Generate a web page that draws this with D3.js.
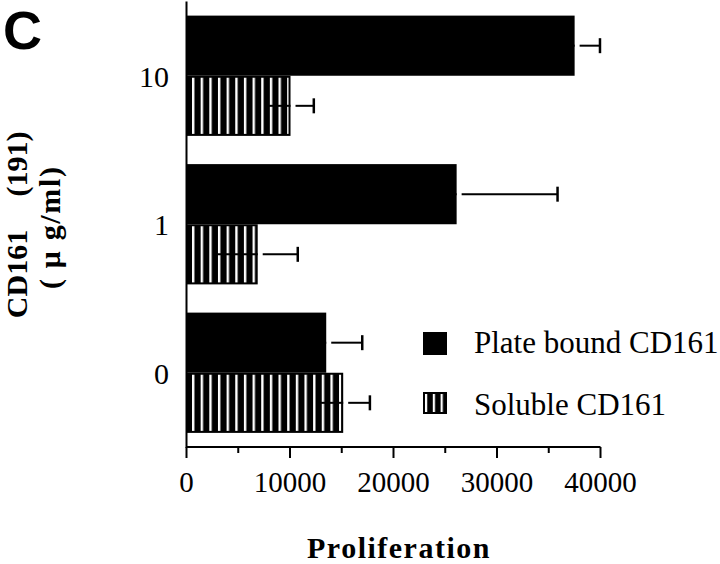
<!DOCTYPE html>
<html><head><meta charset="utf-8">
<script src="https://cdn.jsdelivr.net/npm/d3@7/dist/d3.min.js"></script>
<style>
html,body{margin:0;padding:0;background:#fff;}
svg{display:block;}
</style></head>
<body>
<svg id="chart" width="720" height="564"></svg>
<script>
const categories = ["10", "1", "0"];
const seriesNames = ["Plate bound CD161", "Soluble CD161"];
const plateBound = [37500, 26100, 13500];
const plateBoundErr = [2450, 9750, 3480];
const soluble = [10050, 6880, 15140];
const solubleErr = [2250, 3870, 2580];
const xTicks = [0, 10000, 20000, 30000, 40000];
const xMinorTicks = [5000, 15000, 25000, 35000];

const serif = "'Liberation Serif','Times New Roman',Times,serif";
const svg = d3.select("#chart");

const x = d3.scaleLinear().domain([0, 40000]).range([186.5, 600.5]);
const y = d3.scaleBand().domain(categories).range([1.5, 447]).paddingInner(0.19).paddingOuter(0.095);
const sub = d3.scaleBand().domain([0, 1]).range([0, y.bandwidth()]);

const defs = svg.append("defs");
const pat = defs.append("pattern").attr("id", "stripes").attr("patternUnits", "userSpaceOnUse")
  .attr("x", 192).attr("y", 0).attr("width", 8.65).attr("height", 10);
pat.append("rect").attr("width", 8.65).attr("height", 10).attr("fill", "#000");
pat.append("rect").attr("x", 0).attr("width", 2.4).attr("height", 10).attr("fill", "#fff");

const pat2 = defs.append("pattern").attr("id", "stripesLegend").attr("patternUnits", "userSpaceOnUse")
  .attr("x", 425).attr("y", 0).attr("width", 7.8).attr("height", 10);
pat2.append("rect").attr("width", 7.8).attr("height", 10).attr("fill", "#000");
pat2.append("rect").attr("x", 0).attr("width", 2.2).attr("height", 10).attr("fill", "#fff");

const rows = categories.map((c, i) => ({
  c, plate: plateBound[i], plateErr: plateBoundErr[i], sol: soluble[i], solErr: solubleErr[i]
}));

const g = svg.append("g");
g.selectAll("rect.plate").data(rows).join("rect").attr("class", "plate")
  .attr("x", x(0)).attr("y", d => y(d.c) + sub(0))
  .attr("width", d => x(d.plate) - x(0)).attr("height", sub.bandwidth())
  .attr("fill", "#000");
g.selectAll("rect.sol").data(rows).join("rect").attr("class", "sol")
  .attr("x", x(0)).attr("y", d => y(d.c) + sub(1))
  .attr("width", d => x(d.sol) - x(0)).attr("height", sub.bandwidth())
  .attr("fill", "#000");
g.selectAll("rect.solin").data(rows).join("rect").attr("class", "solin")
  .attr("x", x(0) + 3).attr("y", d => y(d.c) + sub(1) + 2)
  .attr("width", d => x(d.sol) - x(0) - 5).attr("height", sub.bandwidth() - 4)
  .attr("fill", "url(#stripes)");

const errs = [];
rows.forEach(d => {
  errs.push({ c: d.c, k: 0, v: d.plate, e: d.plateErr });
  errs.push({ c: d.c, k: 1, v: d.sol, e: d.solErr });
});
const cy = d => y(d.c) + sub(d.k) + sub.bandwidth() / 2;
g.selectAll("line.eneg").data(errs).join("line").attr("class", "eneg")
  .attr("x1", d => x(d.v - d.e)).attr("x2", d => x(d.v))
  .attr("y1", cy).attr("y2", cy).attr("stroke", "#000").attr("stroke-width", 2);
g.selectAll("line.epos").data(errs).join("line").attr("class", "epos")
  .attr("x1", d => x(d.v) + 5).attr("x2", d => x(d.v + d.e))
  .attr("y1", cy).attr("y2", cy).attr("stroke", "#000").attr("stroke-width", 2);
g.selectAll("line.ecap").data(errs).join("line").attr("class", "ecap")
  .attr("x1", d => x(d.v + d.e)).attr("x2", d => x(d.v + d.e))
  .attr("y1", d => cy(d) - 7.5).attr("y2", d => cy(d) + 7.5)
  .attr("stroke", "#000").attr("stroke-width", 2.5);

const axisY = 447;
svg.append("line").attr("x1", x(0)).attr("x2", x(0)).attr("y1", 1.5).attr("y2", axisY + 1)
  .attr("stroke", "#000").attr("stroke-width", 2);
svg.append("line").attr("x1", x(0)).attr("x2", x(40000)).attr("y1", axisY).attr("y2", axisY)
  .attr("stroke", "#000").attr("stroke-width", 2);
svg.selectAll("line.tmaj").data(xTicks).join("line").attr("class", "tmaj")
  .attr("x1", d => x(d)).attr("x2", d => x(d)).attr("y1", axisY).attr("y2", axisY + 11)
  .attr("stroke", "#000").attr("stroke-width", 2);
svg.selectAll("line.tmin").data(xMinorTicks).join("line").attr("class", "tmin")
  .attr("x1", d => x(d)).attr("x2", d => x(d)).attr("y1", axisY).attr("y2", axisY + 6)
  .attr("stroke", "#000").attr("stroke-width", 2);
svg.selectAll("text.tl").data(xTicks).join("text").attr("class", "tl")
  .attr("x", d => x(d)).attr("y", 492).attr("text-anchor", "middle")
  .attr("font-family", serif).attr("font-size", 29).text(d => d);

svg.selectAll("text.cl").data(categories).join("text").attr("class", "cl")
  .attr("x", 169).attr("y", d => y(d) + y.bandwidth() / 2 + 11).attr("text-anchor", "end")
  .attr("font-family", serif).attr("font-size", 30).text(d => d);

svg.append("text").attr("x", 399).attr("y", 558).attr("text-anchor", "middle")
  .attr("font-family", serif).attr("font-weight", "bold").attr("font-size", 30)
  .attr("letter-spacing", 1.5).text("Proliferation");
svg.append("text").attr("transform", "translate(27,274) rotate(-90)").attr("text-anchor", "middle")
  .attr("font-family", serif).attr("font-weight", "bold").attr("font-size", 30).text("CD161");
svg.append("text").attr("transform", "translate(27,164) rotate(-90)").attr("text-anchor", "middle")
  .attr("font-family", serif).attr("font-weight", "bold").attr("font-size", 30).text("(191)");
svg.append("text").attr("transform", "translate(60,228) rotate(-90)").attr("text-anchor", "middle")
  .attr("font-family", serif).attr("font-weight", "bold").attr("font-size", 30)
  .attr("textLength", 122).attr("lengthAdjust", "spacing").text("( \u03bc g/ml)");

svg.append("text").attr("x", 3).attr("y", 49)
  .attr("font-family", "'Liberation Sans',Arial,Helvetica,sans-serif").attr("font-weight", "bold")
  .attr("font-size", 54).text("C");

const lg = svg.append("g");
lg.append("rect").attr("x", 423).attr("y", 332).attr("width", 24).attr("height", 23).attr("fill", "#000");
lg.append("rect").attr("x", 423).attr("y", 392).attr("width", 24).attr("height", 22).attr("fill", "#000");
lg.append("rect").attr("x", 424.5).attr("y", 394).attr("width", 20).attr("height", 18).attr("fill", "url(#stripesLegend)");
lg.selectAll("text").data(seriesNames).join("text")
  .attr("x", 474).attr("y", (d, i) => i === 0 ? 353 : 415)
  .attr("font-family", serif).attr("font-size", 31).text(d => d);
</script>
</body></html>
